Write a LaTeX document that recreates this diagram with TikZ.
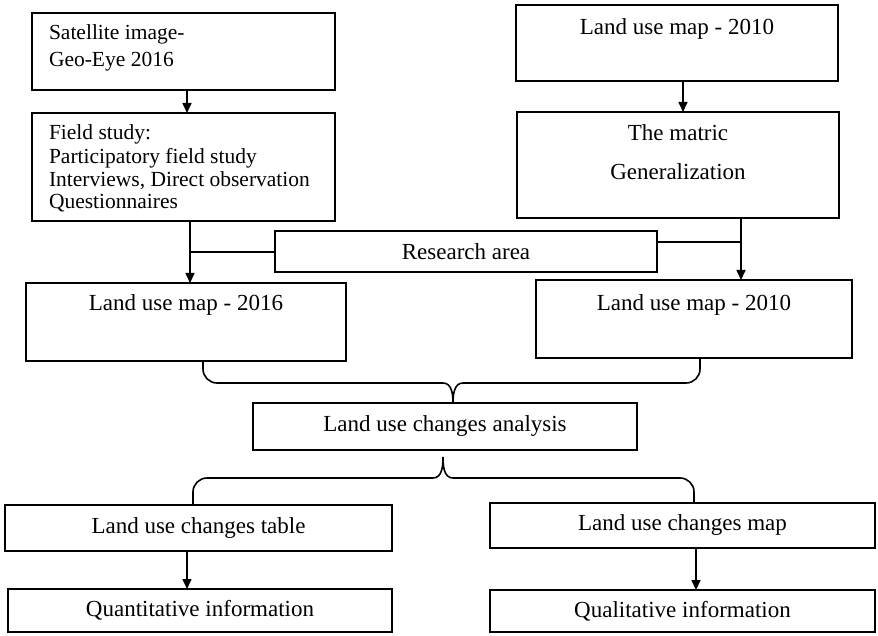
\documentclass[tikz,border=0pt]{standalone}
\usepackage{fontspec}
\setmainfont{Liberation Serif}
\usetikzlibrary{arrows.meta,calc}
\begin{document}
\begin{tikzpicture}[x=1pt,y=-1pt,
  box/.style={draw, line width=2pt, inner sep=0pt, outer sep=0pt, font=\fontsize{23}{25}\selectfont},
  lbl/.style={inner sep=0pt, outer sep=0pt, font=\fontsize{23}{25}\selectfont},
  lblsm/.style={inner sep=0pt, outer sep=0pt, font=\fontsize{21.5}{24}\selectfont},
  arr/.style={line width=1.6pt, -{Triangle[length=10pt,width=9pt]}},
  ln/.style={line width=1.6pt}]
\useasboundingbox (0,0) rectangle (878,636);
% boxes
\node[box, minimum width=303, minimum height=77] (sat) at (183.5,51.5) {};
\node[box, minimum width=303, minimum height=108] (field) at (183.5,167) {};
\node[box, minimum width=322, minimum height=76] (lu10t) at (677,43) {};
\node[box, minimum width=322, minimum height=106] (matric) at (678,165) {};
\node[box, minimum width=382, minimum height=41] (research) at (466,251.5) {Research area};
\node[box, minimum width=320, minimum height=78] (lu16) at (186,322) {};
\node[box, minimum width=316, minimum height=78] (lu10b) at (694,319) {};
\node[box, minimum width=384, minimum height=47] (analysis) at (445,426.5) {Land use changes analysis};
\node[box, minimum width=387, minimum height=46] (table) at (198.5,528) {Land use changes table};
\node[box, minimum width=385, minimum height=45] (map) at (682.5,525.5) {Land use changes map};
\node[box, minimum width=384, minimum height=43] (quant) at (200,610.5) {Quantitative information};
\node[box, minimum width=385, minimum height=42] (qual) at (682.5,611) {Qualitative information};
% texts
\node[lblsm, anchor=base west] (sat1) at ($(sat.north west)+(17,27)$) {Satellite image-};
\node[lblsm, anchor=base west] (sat2) at ($(sat.north west)+(17,54)$) {Geo-Eye 2016};
\node[lblsm, anchor=base west] (f1) at ($(field.north west)+(17,27)$) {Field study:};
\node[lblsm, anchor=base west] (f2) at ($(field.north west)+(17,51)$) {Participatory field study};
\node[lblsm, anchor=base west] (f3) at ($(field.north west)+(17,74)$) {Interviews, Direct observation};
\node[lblsm, anchor=base west] (f4) at ($(field.north west)+(17,96)$) {Questionnaires};
\node[lbl, anchor=base] (t10t) at ($(lu10t.north)+(0,30)$) {Land use map - 2010};
\node[lbl, anchor=base] (m1) at ($(matric.north)+(0,29)$) {The matric};
\node[lbl, anchor=base] (m2) at ($(matric.north)+(0,68)$) {Generalization};
\node[lbl, anchor=base] (t16) at ($(lu16.north)+(0,28)$) {Land use map - 2016};
\node[lbl, anchor=base] (t10b) at ($(lu10b.north)+(0,30)$) {Land use map - 2010};
% junction coordinates
\coordinate (lj) at (190,252);
\coordinate (rj) at (741,242);
\coordinate (b1l) at (203,383);
\coordinate (b1m) at (453,383);
\coordinate (b1r) at (700,383);
\coordinate (b2l) at (193,478);
\coordinate (b2m) at (443,478);
\coordinate (b2r) at (694,478);
% arrows
\draw[arr] ($(sat.south)+(3.5,0)$) -- ($(field.north)+(3.5,0)$);
\draw[arr] ($(lu10t.south)+(6,0)$) -- ($(matric.north)+(5,0)$);
\draw[arr] (field.south -| lj) -- (lu16.north -| lj);
\draw[ln] (research.west |- lj) -- (lj);
\draw[arr] (matric.south -| rj) -- (lu10b.north -| rj);
\draw[ln] (research.east |- rj) -- (rj);
\draw[arr] (table.south -| 187,0) -- (quant.north -| 187,0);
\draw[arr] (map.south -| 696,0) -- (qual.north -| 696,0);
% brace 1 (tip pointing down)
\draw[ln] (lu16.south -| b1l) -- ($(b1l)+(0,-14)$) to[out=-90,in=180] ($(b1l)+(14,0)$)
  -- ($(b1m)+(-10,0)$) to[out=0,in=90] (analysis.north -| b1m)
  to[out=90,in=180] ($(b1m)+(10,0)$) -- ($(b1r)+(-14,0)$)
  to[out=0,in=-90] ($(b1r)+(0,-14)$) -- (lu10b.south -| b1r);
% brace 2 (tip pointing up)
\draw[ln] (table.north -| b2l) -- ($(b2l)+(0,14)$) to[out=90,in=180] ($(b2l)+(14,0)$)
  -- ($(b2m)+(-10,0)$) to[out=0,in=-90] ($(analysis.south -| b2m)+(0,7)$)
  to[out=-90,in=180] ($(b2m)+(10,0)$) -- ($(b2r)+(-14,0)$)
  to[out=0,in=90] ($(b2r)+(0,14)$) -- (map.north -| b2r);
\end{tikzpicture}
\end{document}
